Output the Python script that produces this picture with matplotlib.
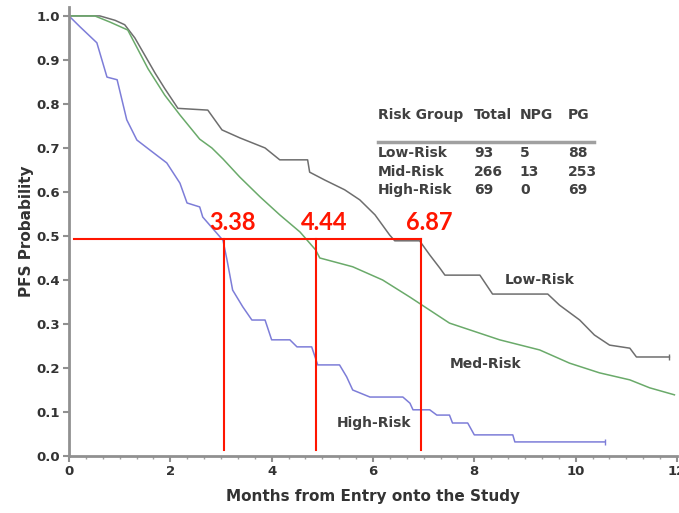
import matplotlib.pyplot as plt
from matplotlib.ticker import MultipleLocator

# PFS curves (months, probability)
low_t = [0, 0.61, 0.91, 1.1, 1.3, 1.5, 1.7, 1.89, 2.15, 2.74, 3.02, 3.37, 3.87, 4.16, 4.71, 4.75,
         5.05, 5.44, 5.74, 6.04, 6.33, 6.43, 6.92, 7.12, 7.32, 7.42, 8.11, 8.36, 9.45, 9.68, 10.08,
         10.37, 10.67, 11.07, 11.2, 11.85]
low_s = [1.0, 1.0, 0.99, 0.98, 0.95, 0.91, 0.87, 0.835, 0.79, 0.786, 0.741, 0.723, 0.70, 0.673, 0.673, 0.645,
         0.627, 0.605, 0.582, 0.548, 0.502, 0.489, 0.489, 0.457, 0.427, 0.411, 0.411, 0.368, 0.368, 0.343, 0.309,
         0.275, 0.252, 0.245, 0.225, 0.225]

mid_t = [0, 0.51, 0.81, 1.16, 1.56, 1.89, 2.19, 2.58, 2.82, 3.04, 3.37, 3.77, 4.16, 4.56, 4.87, 4.95,
         5.6, 6.19, 6.73, 7.51, 8.5, 9.29, 9.88, 10.47, 11.07, 11.46, 11.95]
mid_s = [1.0, 1.0, 0.986, 0.968, 0.88, 0.82, 0.775, 0.72, 0.70, 0.675, 0.634, 0.589, 0.548, 0.509, 0.468, 0.45,
         0.43, 0.40, 0.361, 0.302, 0.264, 0.241, 0.211, 0.189, 0.173, 0.155, 0.139]

high_t = [0, 0.22, 0.55, 0.75, 0.95, 1.14, 1.34, 1.6, 1.93, 2.19, 2.33, 2.58, 2.64, 3.04, 3.12, 3.23,
          3.43, 3.61, 3.87, 4.0, 4.36, 4.5, 4.79, 4.91, 5.34, 5.48, 5.6, 5.94, 6.59, 6.73, 6.79, 7.12,
          7.26, 7.51, 7.57, 7.87, 8.0, 8.76, 8.8, 10.57]
high_s = [1.0, 0.975, 0.939, 0.861, 0.855, 0.764, 0.718, 0.695, 0.666, 0.62, 0.575, 0.566, 0.543, 0.49, 0.445, 0.377,
          0.339, 0.309, 0.309, 0.264, 0.264, 0.248, 0.248, 0.207, 0.207, 0.18, 0.15, 0.134, 0.134, 0.12, 0.105, 0.105,
          0.093, 0.093, 0.075, 0.075, 0.048, 0.048, 0.032, 0.032]

# medians marked in red
median_y = 0.493
median_x = [3.06, 4.87, 6.94]
median_labels = ["3.38", "4.44", "6.87"]
median_label_x = [3.23, 5.03, 7.12]

# summary table
table_header = ["Risk Group", "Total", "NPG", "PG"]
groups = ["Low-Risk", "Mid-Risk", "High-Risk"]
total = [93, 266, 69]
npg = [5, 13, 0]
pg = [88, 253, 69]

fig = plt.figure(figsize=(6.79, 5.13), dpi=100)
ax = fig.add_axes([0.1016, 0.1111, 0.8954, 0.875])

ax.plot(low_t, low_s, color="#6e6e6e", lw=1.1)
ax.plot(mid_t, mid_s, color="#6aaa6a", lw=1.1)
ax.plot(high_t, high_s, color="#7d7dd8", lw=1.1)
ax.plot(low_t[-1], low_s[-1], marker="|", color="#6e6e6e", ms=5)
ax.plot(high_t[-1], high_s[-1], marker="|", color="#7d7dd8", ms=5)

ax.text(9.29, 0.4, "Low-Risk", fontsize=10, fontweight="bold", color="#404040", ha="center", va="center")
ax.text(8.22, 0.209, "Med-Risk", fontsize=10, fontweight="bold", color="#404040", ha="center", va="center")
ax.text(6.03, 0.075, "High-Risk", fontsize=10, fontweight="bold", color="#404040", ha="center", va="center")

red = "#ff1500"
ax.plot([0.1, median_x[-1]], [median_y, median_y], color=red, lw=1.5)
for xm, lab, xl in zip(median_x, median_labels, median_label_x):
    ax.plot([xm, xm], [0.014, median_y], color=red, lw=1.5)
    ax.text(xl, 0.53, lab, color=red, fontsize=17, fontweight="bold", family="Lato",
            ha="center", va="center")

# table placed in data coordinates
col_x = [6.1, 8.0, 8.9, 9.85]
for cx, h in zip(col_x, table_header):
    ax.text(cx, 0.775, h, fontsize=10, fontweight="bold", color="#404040", va="center")
ax.plot([6.1, 10.37], [0.714, 0.714], color="#a0a0a0", lw=2.5)
row_y = [0.689, 0.645, 0.605]
for ry, g, a, b, c in zip(row_y, groups, total, npg, pg):
    for cx, v in zip(col_x, [g, a, b, c]):
        ax.text(cx, ry, str(v), fontsize=10, fontweight="bold", color="#404040", va="center")

ax.set_xlim(0, 12)
ax.set_ylim(0, 1.02)
ax.set_xticks([0, 2, 4, 6, 8, 10, 12])
ax.set_yticks([i / 10 for i in range(11)])
ax.xaxis.set_minor_locator(MultipleLocator(1 / 3))
ax.tick_params(axis="both", which="major", labelsize=9.5, colors="#909090", length=4, width=1.5,
               labelcolor="#333333", pad=2.5)
ax.tick_params(axis="x", which="minor", length=2.5, width=1, colors="#a0a0a0")
for lab in ax.get_xticklabels() + ax.get_yticklabels():
    lab.set_fontweight("bold")
ax.yaxis.set_major_formatter(plt.FormatStrFormatter("%.1f"))

for s in ["top", "right"]:
    ax.spines[s].set_visible(False)
for s in ["left", "bottom"]:
    ax.spines[s].set_color("#909090")
    ax.spines[s].set_linewidth(2)

ax.set_xlabel("Months from Entry onto the Study", fontsize=11, fontweight="bold", color="#333333", labelpad=8)
ax.set_ylabel("PFS Probability", fontsize=11, fontweight="bold", color="#333333", labelpad=2)

fig.savefig("out.png", dpi=100)
